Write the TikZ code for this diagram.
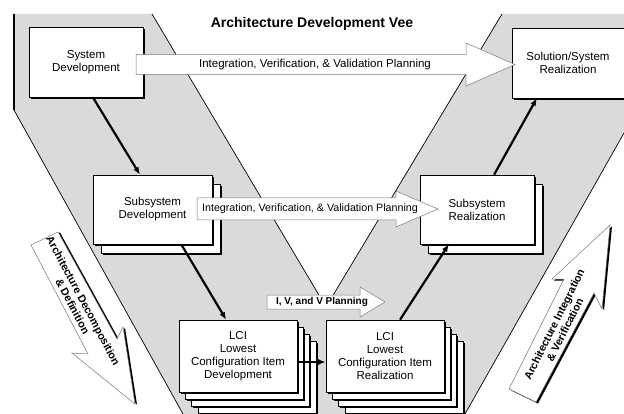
\documentclass[tikz,border=0pt]{standalone}
\usepackage{fontspec}
\setmainfont{Liberation Sans}
\usetikzlibrary{calc,arrows.meta,shadows}
\definecolor{vgray}{RGB}{218,218,218}
\definecolor{agray}{RGB}{120,120,120}
\begin{document}
\begin{tikzpicture}[x=1pt,y=-1pt,
  box/.style={draw=black, line width=0.6pt, fill=white, inner sep=1pt, align=center,
    font=\fontsize{11.5}{13}\selectfont,
    drop shadow={shadow xshift=1.8pt, shadow yshift=-1.8pt, fill=black, opacity=1}},
  lcibox/.style={box, minimum width=118pt, minimum height=72pt},
  subbox/.style={box, minimum height=69pt},
  conn/.style={line width=2.2pt, -{Latex[length=7.5pt,width=6pt]}},
  barrow/.style={draw=agray, line width=0.5pt, fill=white},
  vline/.style={draw=black, line width=0.7pt},
  btext/.style={font=\fontsize{11.5}{13}\selectfont},
  dtext/.style={font=\bfseries\fontsize{10.8}{12}\selectfont, align=center},
]
\useasboundingbox (0,0) rectangle (624,414);

% the Vee band
\fill[vgray] (14,14) -- (152,14) -- (326,307) -- (502,14) -- (624,14) -- (624,133)
  -- (465,414) -- (183,414) -- (14,110) -- cycle;
\draw[vline, line width=1.3pt] (14,14) -- (14,110);
\draw[vline] (14,110) -- (183,414);
\draw[vline] (152,14) -- (326,307) -- (502,14);
\draw[vline] (624,133) -- (465,414);

% left big arrow
\fill[black, xshift=2pt, yshift=-0.5pt] (58,232) -- (117,339) -- (123,327) -- (135,404)
  -- (72,353) -- (88,354) -- (31,245) -- cycle;
\draw[barrow] (58,232) -- (117,339) -- (123,327) -- (135,404)
  -- (72,353) -- (88,354) -- (31,245) -- cycle;
\node[dtext, rotate=-62] (decomp) at (78,303.5) {Architecture Decomposition\\\& Definition};

% right big arrow
\fill[black, xshift=2pt, yshift=-1.5pt] (610,225) -- (552,279) -- (564,279) -- (509,389)
  -- (536,402) -- (594,293) -- (602,309) -- cycle;
\draw[barrow] (610,225) -- (552,279) -- (564,279) -- (509,389)
  -- (536,402) -- (594,293) -- (602,309) -- cycle;
\node[dtext, rotate=63.5] (integ) at (559.5,327) {Architecture Integration\\\& Verification};

% boxes
\node[box, minimum width=114pt, minimum height=70pt] (sysdev) at (86,62) {System\\Development};
\node[box, minimum width=112pt, minimum height=70pt] (solreal) at (568,63) {Solution/System\\Realization};

\node[subbox, minimum width=119pt] (subdevb) at (160.5,218.5) {};
\node[subbox, minimum width=119pt] (subdev) at (152.5,209.5) {Subsystem\\Development};
\node[subbox, minimum width=114pt] (subrealb) at (485,218.5) {};
\node[subbox, minimum width=114pt] (subreal) at (477,209.5) {Subsystem\\Realization};

\node[lcibox] (lcidev3) at (257,377) {};
\node[lcibox] (lcidev2) at (250.6,370) {};
\node[lcibox] (lcidev1) at (244.3,363) {};
\node[lcibox] (lcidev) at (238,356) {LCI\\Lowest\\Configuration Item\\Development};
\node[lcibox] (lcireal3) at (404,377) {};
\node[lcibox] (lcireal2) at (397.6,370) {};
\node[lcibox] (lcireal1) at (391.3,363) {};
\node[lcibox] (lcireal) at (385,356) {LCI\\Lowest\\Configuration Item\\Realization};

% connectors
\draw[conn] ($(sysdev.south west)!0.56!(sysdev.south east)$) -- ($(subdev.north west)!0.395!(subdev.north east)$);
\draw[conn] ($(subdev.south west)!0.74!(subdev.south east)$) -- ($(lcidev.north west)!0.40!(lcidev.north east)$);
\draw[conn] ([yshift=-6pt]lcidev.east) -- ([yshift=-6pt]lcireal.west);
\draw[conn] ($(lcireal.north west)!0.627!(lcireal.north east)$) -- ($(subreal.south west)!0.254!(subreal.south east)$);
\draw[conn] ($(subreal.north west)!0.649!(subreal.north east)$) -- ($(solreal.south west)!0.223!(solreal.south east)$);

% planning arrows
\draw[barrow] (136,54.5) -- (466,54.5) -- (466,43) -- (515,64.5) -- (466,86) -- (466,74.5) -- (136,74.5) -- cycle;
\node[btext] (ivv1) at (315,65) {Integration, Verification, \& Validation Planning};

\draw[barrow] (197,198) -- (396,198) -- (396,191) -- (438,209) -- (396,227) -- (396,220) -- (197,220) -- cycle;
\node[font=\fontsize{10.7}{12}\selectfont] (ivv2) at (310,209) {Integration, Verification, \& Validation Planning};

\draw[barrow] (267,295) -- (360,295) -- (360,287) -- (385,302) -- (360,317) -- (360,309) -- (267,309) -- cycle;
\node[font=\bfseries\fontsize{10}{12}\selectfont] (ivv3) at (322,302) {I, V, and V Planning};

% title
\node[font=\bfseries\fontsize{14}{16}\selectfont, anchor=base] (title) at (312,28) {Architecture Development Vee};
\end{tikzpicture}
\end{document}
